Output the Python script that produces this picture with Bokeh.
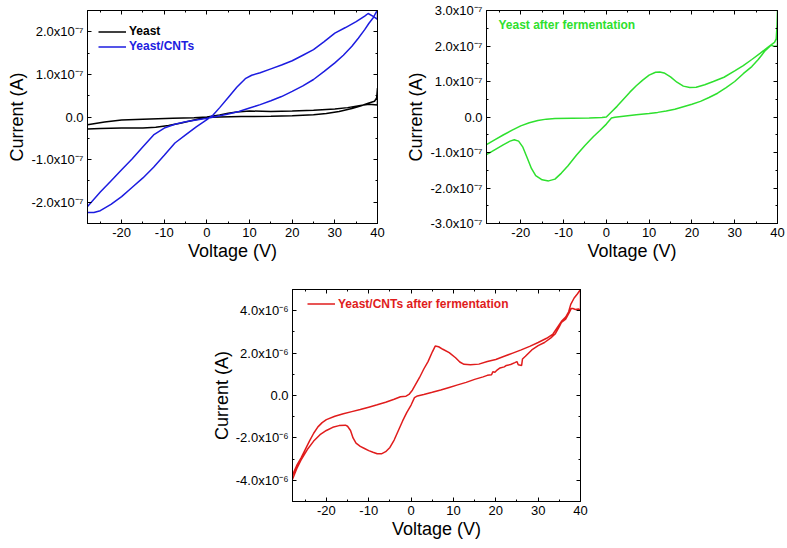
from bokeh.plotting import figure
from bokeh.models import Range1d, FixedTicker, LinearAxis, Legend, LegendItem, Label, Spacer
from bokeh.layouts import row, column
from bokeh.embed import file_html
from bokeh.resources import INLINE

FONT = "Liberation Sans"

# ---------------- data ----------------
x_ticks = [-20, -10, 0, 10, 20, 30, 40]
x_minor = [-25, -15, -5, 5, 15, 25, 35]
x_labels = ["-20", "-10", "0", "10", "20", "30", "40"]

# Panel 1 (current in units of 1e-7 A)
y1_ticks = [-2, -1, 0, 1, 2]
y1_minor = [-2.5, -1.5, -0.5, 0.5, 1.5, 2.5]
y1_labels = ["-2.0x10⁻⁷", "-1.0x10⁻⁷", "0.0", "1.0x10⁻⁷", "2.0x10⁻⁷"]

yeast_v = [-28, -25, -20, -15, -12, -9, -6, -3, 0, 3, 8, 15, 20, 25, 28, 31, 34, 36, 38, 39.3, 39.8, 40,
           40, 38, 36, 33, 30, 25, 20, 15, 10, 7, 5, 3, 0, -3, -8, -15, -20, -24, -28]
yeast_i = [-0.28, -0.27, -0.26, -0.26, -0.24, -0.2, -0.14, -0.07, -0.01, 0.0, 0.01, 0.015, 0.03, 0.05, 0.08, 0.13, 0.2, 0.26, 0.33, 0.37, 0.45, 0.68,
           0.28, 0.3, 0.27, 0.22, 0.19, 0.16, 0.14, 0.13, 0.14, 0.12, 0.09, 0.05, 0.0, -0.02, -0.03, -0.05, -0.07, -0.12, -0.18]

cnt_v = [-28, -26.5, -25, -22.5, -20, -17.5, -15, -12.5, -10, -7.5, -5, -2.5, 0, 1.5, 3, 5, 7, 9, 10.5, 12.5,
         15, 17.5, 20, 22.5, 25, 27.5, 30, 32.5, 35, 37, 37.8, 39, 40,
         40, 39, 38, 37, 35.5, 34, 32, 30, 27.5, 25, 22.5, 20, 17.5, 15, 12.5, 10, 7.5, 5, 2.5, 0,
         -2.5, -5, -7.5, -10, -12.5, -15, -17.5, -20, -22.5, -25, -28]
cnt_i = [-2.24, -2.24, -2.2, -2.05, -1.87, -1.65, -1.43, -1.18, -0.9, -0.61, -0.42, -0.23, -0.06, 0.05, 0.22, 0.46, 0.7, 0.9, 0.98, 1.04,
         1.13, 1.22, 1.32, 1.45, 1.58, 1.77, 1.97, 2.1, 2.24, 2.37, 2.43, 2.36, 2.29,
         2.52, 2.33, 2.2, 2.05, 1.85, 1.66, 1.45, 1.27, 1.07, 0.88, 0.73, 0.6, 0.48, 0.38, 0.29, 0.21, 0.13, 0.07, 0.02, -0.03,
         -0.07, -0.11, -0.17, -0.26, -0.42, -0.7, -0.98, -1.24, -1.5, -1.76, -2.1]

# Panel 2 (current in units of 1e-7 A)
y2_ticks = [-3, -2, -1, 0, 1, 2, 3]
y2_minor = [-2.5, -1.5, -0.5, 0.5, 1.5, 2.5]
y2_labels = ["-3.0x10⁻⁷", "-2.0x10⁻⁷", "-1.0x10⁻⁷", "0.0", "1.0x10⁻⁷", "2.0x10⁻⁷", "3.0x10⁻⁷"]

ferm_v = [-28, -26, -24, -22, -20, -18, -16, -14, -12, -8, -4, -1, 0, 1, 2.5, 4, 5.5, 7, 8.5, 10, 11.5, 12.5, 13.5,
          15, 16.5, 18, 19.5, 21, 23, 25, 27.5, 30, 32, 34, 36, 37.5, 38.5, 39.3, 39.7, 39.9, 40,
          40, 39.3, 38.5, 37, 35.5, 34, 32, 30, 28, 26, 24, 22, 20, 18, 16, 14, 12, 10, 7, 4, 2, 1.2, 0,
          -1.5, -3, -5, -7, -9, -10.5, -12, -13.5, -15, -16.5, -17.5, -18.5, -19.5, -20.5, -21.5, -22.5, -24, -26, -28]
ferm_i = [-0.78, -0.64, -0.5, -0.37, -0.25, -0.16, -0.1, -0.06, -0.045, -0.035, -0.025, -0.015, 0.0, 0.12, 0.3, 0.5, 0.7, 0.88, 1.04, 1.18, 1.26, 1.27, 1.24,
          1.13, 0.98, 0.87, 0.83, 0.84, 0.91, 1.0, 1.12, 1.3, 1.45, 1.62, 1.8, 1.94, 2.03, 2.1, 2.2, 2.6, 3.0,
          2.0, 1.99, 2.02, 1.85, 1.62, 1.42, 1.22, 1.0, 0.83, 0.67, 0.55, 0.44, 0.36, 0.29, 0.22, 0.17, 0.13, 0.1, 0.06, 0.02, -0.01, -0.03, -0.2,
          -0.38, -0.55, -0.8, -1.08, -1.38, -1.58, -1.75, -1.8, -1.77, -1.65, -1.45, -1.15, -0.85, -0.68, -0.64, -0.68, -0.78, -0.92, -1.06]

# Panel 3 (current in units of 1e-6 A)
y3_ticks = [-4, -2, 0, 2, 4]
y3_minor = [-5, -3, -1, 1, 3, 5]
y3_labels = ["-4.0x10⁻⁶", "-2.0x10⁻⁶", "0.0", "2.0x10⁻⁶", "4.0x10⁻⁶"]

fcnt_v = [-28, -27, -26, -25, -24, -23, -22, -21, -20, -18, -16, -14, -12, -10, -8, -6, -4, -2.5, -1.2, -0.5, 0.3, 1, 2, 3, 4, 5, 5.7,
          6.5, 7.5, 9, 10.5, 11.5, 12.5, 14, 16, 18, 20, 22, 24, 26, 28, 30, 32, 33.5, 34.5, 35.5, 36.5, 37.2, 37.7, 38.5, 39.3, 40,
          40, 39.5, 38.8, 38.2, 37.8, 37.3, 36.5, 35.5, 35, 34, 33, 31.5, 30, 28.5, 27, 26.3, 26.1, 25.3, 25, 24.5, 23.5, 22.5, 22, 21,
          20.3, 19.8, 19.3, 19, 18, 17, 15, 13, 11, 9, 7, 5, 3, 1.5, 0.8, 0, -1, -2, -3, -4, -5, -6, -7, -8, -9, -10, -11, -12, -13,
          -13.7, -14.3, -15, -15.5, -17, -18.5, -20, -21.5, -23, -24.5, -26, -27, -28]
fcnt_i = [-3.75, -3.3, -2.95, -2.55, -2.15, -1.78, -1.48, -1.28, -1.14, -0.98, -0.86, -0.76, -0.66, -0.55, -0.44, -0.32, -0.18, -0.06, -0.03, 0.05, 0.25, 0.5, 0.85, 1.25, 1.6, 2.05, 2.33,
          2.3, 2.18, 2.02, 1.78, 1.58, 1.47, 1.45, 1.48, 1.6, 1.7, 1.85, 2.0, 2.15, 2.32, 2.5, 2.7, 2.9, 3.2, 3.5, 3.7, 3.95, 4.3, 4.6, 4.8, 5.0,
          4.02, 4.08, 4.06, 4.1, 4.1, 3.9, 3.6, 3.45, 3.25, 2.9, 2.72, 2.5, 2.35, 2.15, 1.85, 1.72, 1.42, 1.45, 1.6, 1.55, 1.46, 1.42, 1.35, 1.3,
          1.2, 1.1, 1.12, 0.98, 0.95, 0.88, 0.76, 0.62, 0.5, 0.38, 0.26, 0.15, 0.05, -0.02, -0.1, -0.45, -0.8, -1.2, -1.65, -2.1, -2.45, -2.65, -2.75, -2.75, -2.68, -2.6, -2.5, -2.4, -2.25,
          -2.0, -1.65, -1.45, -1.4, -1.42, -1.5, -1.65, -1.85, -2.15, -2.55, -3.05, -3.45, -3.95]

BLACK = "#000000"
BLUE = "#1c1ce0"
GREEN = "#2ee02e"
RED = "#e01c1c"


def style_axis(ax, ticks, minor, labels=None, show=True):
    ax.ticker = FixedTicker(ticks=ticks, minor_ticks=minor)
    ax.major_tick_in = 4
    ax.major_tick_out = 0
    ax.minor_tick_in = 2
    ax.minor_tick_out = 0
    ax.axis_line_color = "black"
    ax.major_tick_line_color = "black"
    ax.minor_tick_line_color = "black"
    if show:
        ax.major_label_text_font = FONT
        ax.major_label_text_font_size = "13px"
        ax.major_label_text_color = "black"
        ax.major_label_standoff = 4
        ax.axis_label_text_font = FONT
        ax.axis_label_text_font_size = "18px"
        ax.axis_label_text_font_style = "normal"
        ax.axis_label_text_color = "black"
        ax.axis_label_standoff = 1
        if labels is not None:
            ax.major_label_overrides = {t: l for t, l in zip(ticks, labels)}
    else:
        ax.major_label_overrides = {t: "" for t in ticks}
        ax.major_label_text_font_size = "1px"
        ax.major_label_standoff = 0
        ax.axis_label = None


def make_fig(width, height, borders, yr, yt, ym, yl):
    l, r, t, b = borders
    p = figure(width=width, height=height, output_backend="svg", toolbar_location=None,
               x_range=Range1d(-28, 40), y_range=Range1d(*yr),
               x_axis_label="Voltage (V)", y_axis_label="Current (A)",
               min_border_left=l, min_border_right=r, min_border_top=t, min_border_bottom=b)
    p.xgrid.visible = False
    p.ygrid.visible = False
    p.outline_line_color = "black"
    p.outline_line_alpha = 1
    p.background_fill_color = "white"
    p.border_fill_color = "white"
    style_axis(p.xaxis[0], x_ticks, x_minor, x_labels)
    style_axis(p.yaxis[0], yt, ym, yl)
    top = LinearAxis()
    style_axis(top, x_ticks, x_minor, show=False)
    p.add_layout(top, "above")
    right = LinearAxis()
    style_axis(right, yt, ym, show=False)
    p.add_layout(right, "right")
    return p


def legend(renderer, text, color, loc):
    return Legend(items=[LegendItem(label=text, renderers=[renderer])], location=loc,
                  glyph_width=28, glyph_height=15, label_height=15, label_standoff=3,
                  padding=0, margin=0, spacing=0, border_line_color=None,
                  background_fill_alpha=0, label_text_font=FONT, label_text_font_size="12px",
                  label_text_font_style="bold", label_text_color=color)


# Panel 1
p1 = make_fig(400, 270, (87, 23, 10, 46), (-2.5, 2.5), y1_ticks, y1_minor, y1_labels)
r_y = p1.line(yeast_v, yeast_i, line_color=BLACK, line_width=1.5)
r_c = p1.line(cnt_v, cnt_i, line_color=BLUE, line_width=1.5)
p1.add_layout(legend(r_y, "Yeast", BLACK, (11, 184.5)))
p1.add_layout(legend(r_c, "Yeast/CNTs", BLUE, (11, 169.5)))

# Panel 2
p2 = make_fig(386, 270, (86, 9, 10, 47), (-3, 3), y2_ticks, y2_minor, y2_labels)
p2.line(ferm_v, ferm_i, line_color=GREEN, line_width=1.5)
p2.add_layout(Label(x=-25.2, y=2.58, text="Yeast after fermentation", text_font=FONT,
                    text_font_size="12px", text_font_style="bold", text_color=GREEN,
                    text_baseline="middle"))

# Panel 3
p3 = make_fig(392, 276, (82, 20, 19, 45), (-5, 5), y3_ticks, y3_minor, y3_labels)
r_f = p3.line(fcnt_v, fcnt_i, line_color=RED, line_width=1.5)
p3.add_layout(legend(r_f, "Yeast/CNTs after fermentation", RED, (15, 190)))

layout = column(row(p1, p2), row(Spacer(width=208, height=276), p3))

open("out.html", "w").write(file_html(layout, INLINE))
